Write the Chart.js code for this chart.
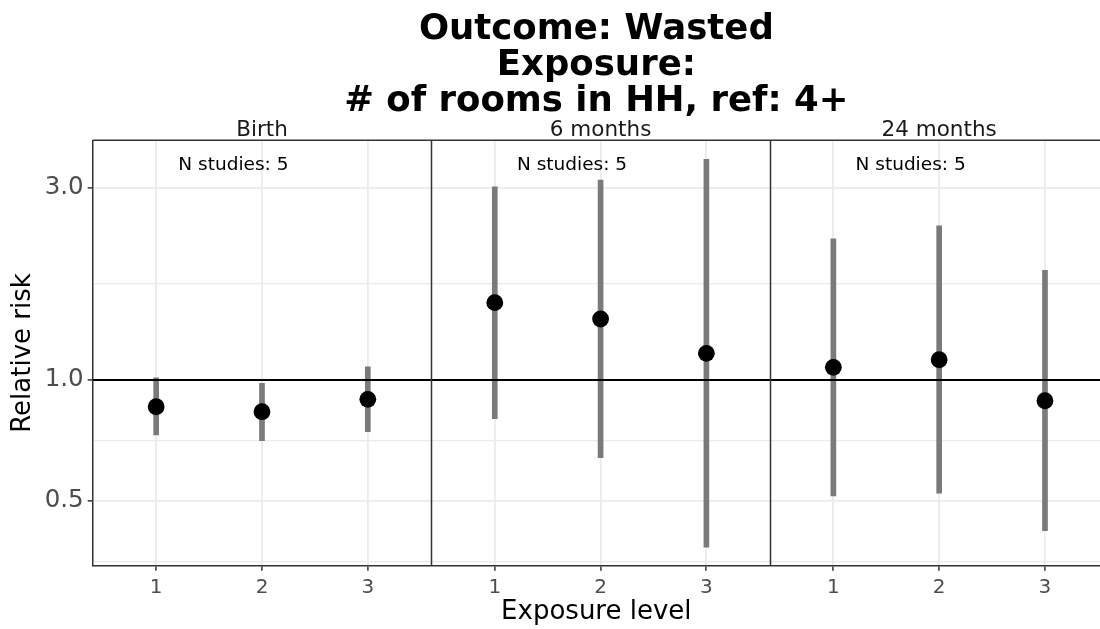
<!DOCTYPE html>
<html>
<head>
<meta charset="utf-8">
<script src="https://cdn.jsdelivr.net/npm/chart.js@4.4.1/dist/chart.umd.min.js"></script>
<style>
  html, body { margin: 0; padding: 0; background: #fff; }
  #wrap { width: 1100px; height: 629px; }
</style>
</head>
<body>
<div id="wrap"><canvas id="rrChart" width="1100" height="629"></canvas></div>
<script>
const timepoints = ["Birth", "6 months", "24 months"];
const exposureLevels = ["1", "2", "3"];
const nStudies = [5, 5, 5];

// relative risk + 95% CI, one row per timepoint, one value per exposure level
const rrEstimate = [
  [0.858, 0.834, 0.895],
  [1.557, 1.418, 1.165],
  [1.075, 1.123, 0.888],
];
const ciLower = [
  [0.730, 0.706, 0.744],
  [0.801, 0.641, 0.384],
  [0.515, 0.523, 0.422],
];
const ciUpper = [
  [1.013, 0.981, 1.079],
  [3.024, 3.143, 3.537],
  [2.245, 2.419, 1.874],
];

const yMajorTicks = [0.5, 1.0, 3.0];
const yMinorTicks = [0.354, 0.707, 1.732];
const yMin = 0.3453;
const yMax = 3.945;

// each facet is 3 levels + 0.6 expansion on both sides (ggplot discrete scale)
const PANEL = 3.2;
const X_MAX = 9.52; // last panel is cut by the figure edge
const xPos = (p, i) => p * PANEL + 0.6 + i;

const points = [];
const ciBars = [];
const xTickVals = [];
timepoints.forEach((t, p) => {
  exposureLevels.forEach((lvl, i) => {
    points.push({ x: xPos(p, i), y: rrEstimate[p][i] });
    ciBars.push({ x: xPos(p, i), y: [ciLower[p][i], ciUpper[p][i]] });
    xTickVals.push(xPos(p, i));
  });
});

const FONT = "'DejaVu Sans', sans-serif";

const facetPlugin = {
  id: "facets",
  afterDraw(chart) {
    const { ctx, chartArea, scales } = chart;
    const { x, y } = scales;
    ctx.save();
    // panel borders: top + separators
    ctx.strokeStyle = "#333333";
    ctx.lineWidth = 1.5;
    ctx.beginPath();
    ctx.moveTo(chartArea.left, chartArea.top);
    ctx.lineTo(chartArea.right, chartArea.top);
    for (let p = 1; p < timepoints.length; p++) {
      const px = Math.round(x.getPixelForValue(p * PANEL)) + 0.5;
      ctx.moveTo(px, chartArea.top);
      ctx.lineTo(px, chartArea.bottom);
    }
    ctx.stroke();

    // strip labels and study counts
    ctx.textAlign = "center";
    ctx.textBaseline = "middle";
    timepoints.forEach((t, p) => {
      ctx.fillStyle = "#1A1A1A";
      ctx.font = "21.5px " + FONT;
      ctx.fillText(t, x.getPixelForValue(p * PANEL + PANEL / 2), chartArea.top - 10);
      ctx.fillStyle = "#000000";
      ctx.font = "18.5px " + FONT;
      ctx.fillText("N studies: " + nStudies[p], x.getPixelForValue(p * PANEL + 1.33), y.getPixelForValue(3.42));
    });
    ctx.restore();
  },
};

new Chart(document.getElementById("rrChart"), {
  type: "scatter",
  data: {
    datasets: [
      {
        type: "line",
        data: [{ x: 0, y: 1 }, { x: X_MAX, y: 1 }],
        borderColor: "#000000",
        borderWidth: 2,
        pointRadius: 0,
        order: 1,
      },
      {
        type: "bar",
        data: ciBars,
        backgroundColor: "#7a7a7a",
        barThickness: 5,
        grouped: false,
        order: 3,
      },
      {
        type: "scatter",
        data: points,
        backgroundColor: "#000000",
        borderWidth: 0,
        pointRadius: 8.4,
        order: 0,
      },
    ],
  },
  options: {
    responsive: false,
    animation: false,
    layout: { padding: 0, autoPadding: false },
    plugins: {
      legend: { display: false },
      tooltip: { enabled: false },
      title: {
        display: true,
        fullSize: false,
        text: ["Outcome: Wasted", "Exposure:", "# of rooms in HH, ref: 4+"],
        color: "#000000",
        font: { family: FONT, size: 35.5, weight: "bold", lineHeight: "36px" },
        padding: { top: 12, bottom: 20.3 },
      },
    },
    scales: {
      x: {
        type: "linear",
        min: 0,
        max: X_MAX,
        bounds: "data",
        offset: false,
        afterBuildTicks: (scale) => {
          scale.ticks = xTickVals.map((v) => ({ value: v }));
        },
        afterFit: (scale) => { scale.height = 63.3; },
        ticks: {
          autoSkip: false,
          maxRotation: 0,
          padding: 5,
          color: "#4D4D4D",
          font: { family: FONT, size: 20 },
          callback: (v, i) => exposureLevels[i % exposureLevels.length],
        },
        grid: {
          offset: false,
          color: "#EBEBEB",
          lineWidth: 1.8,
          tickColor: "#333333",
          tickLength: 5,
          tickWidth: 1.5,
        },
        border: { display: true, color: "#333333", width: 1.5 },
        title: {
          display: true,
          text: "Exposure level",
          color: "#000000",
          font: { family: FONT, size: 26 },
          padding: { top: 0, bottom: 1 },
        },
      },
      y: {
        type: "logarithmic",
        min: yMin,
        max: yMax,
        bounds: "data",
        afterBuildTicks: (scale) => {
          scale.ticks = yMinorTicks.concat(yMajorTicks).sort((a, b) => a - b).map((v) => ({ value: v }));
        },
        afterFit: (scale) => { scale.width = 92.7; },
        ticks: {
          autoSkip: false,
          padding: 4,
          color: "#4D4D4D",
          font: { family: FONT, size: 24.5 },
          callback: (v) => (yMajorTicks.includes(v) ? v.toFixed(1) : ""),
        },
        grid: {
          color: "#EBEBEB",
          lineWidth: (c) => (yMajorTicks.includes(c.tick && c.tick.value) ? 1.8 : 1.2),
          tickColor: (c) => (yMajorTicks.includes(c.tick && c.tick.value) ? "#333333" : "rgba(0,0,0,0)"),
          tickLength: 5,
          tickWidth: 1.5,
        },
        border: { display: true, color: "#333333", width: 1.5 },
        title: {
          display: true,
          text: "Relative risk",
          color: "#000000",
          font: { family: FONT, size: 26 },
          padding: { top: 8, bottom: 0 },
        },
      },
    },
  },
  plugins: [facetPlugin],
});
</script>
</body>
</html>
